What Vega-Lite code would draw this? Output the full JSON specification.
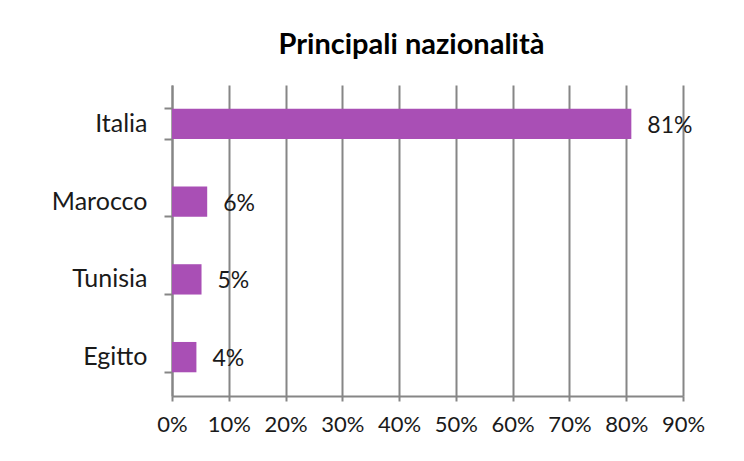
{
  "$schema": "https://vega.github.io/schema/vega-lite/v6.json",
  "autosize": "none",
  "width": 511,
  "height": 311,
  "padding": {"left": 172, "top": 85, "right": 61, "bottom": 65},
  "background": "white",
  "title": {
    "text": "Principali nazionalità",
    "font": "Lato",
    "fontSize": 29,
    "fontWeight": "bold",
    "color": "#000000",
    "anchor": "middle",
    "dx": -16,
    "offset": 13
  },
  "data": {
    "values": [
      {"paese": "Italia", "quota": 0.809},
      {"paese": "Marocco", "quota": 0.062},
      {"paese": "Tunisia", "quota": 0.052},
      {"paese": "Egitto", "quota": 0.043}
    ]
  },
  "encoding": {
    "y": {
      "field": "paese",
      "type": "nominal",
      "sort": null,
      "title": null,
      "scale": {"paddingInner": 0.61, "paddingOuter": 0.305},
      "axis": {
        "domainColor": "#868686",
        "domainWidth": 2,
        "tickColor": "#868686",
        "tickWidth": 2,
        "tickSize": 8,
        "bandPosition": 1,
        "tickExtra": true,
        "labelFont": "Lato",
        "labelFontSize": 25,
        "labelColor": "#1a1a1a",
        "labelPadding": 17,
        "grid": false
      }
    },
    "x": {
      "field": "quota",
      "type": "quantitative",
      "title": null,
      "scale": {"domain": [0, 0.9], "nice": false},
      "axis": {
        "format": ".0%",
        "values": [0, 0.1, 0.2, 0.3, 0.4, 0.5, 0.6, 0.7, 0.8, 0.9],
        "labelOverlap": false,
        "labelFlush": false,
        "labelBound": false,
        "domainColor": "#868686",
        "domainWidth": 2,
        "tickColor": "#868686",
        "tickWidth": 2,
        "tickSize": 5,
        "grid": true,
        "gridColor": "#868686",
        "gridWidth": 2,
        "labelFont": "Lato",
        "labelFontSize": 22,
        "labelColor": "#1a1a1a",
        "labelPadding": 13
      }
    }
  },
  "layer": [
    {
      "mark": {"type": "bar", "color": "#A94FB5"}
    },
    {
      "mark": {"type": "text", "align": "left", "dx": 16, "dy": 2, "font": "Lato", "fontSize": 23, "color": "#1a1a1a"},
      "encoding": {
        "text": {"field": "quota", "type": "quantitative", "format": ".0%"}
      }
    }
  ],
  "config": {"view": {"stroke": null}}
}
